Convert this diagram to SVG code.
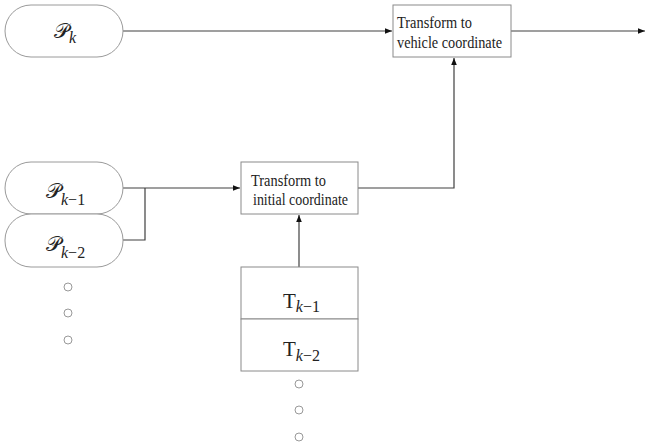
<svg xmlns="http://www.w3.org/2000/svg" width="646" height="444" viewBox="0 0 646 444">
<style>
.pill{fill:#fff;stroke:#9a9a9a;stroke-width:1}
.box{fill:#fff;stroke:#8a8a8a;stroke-width:1}
.ln{fill:none;stroke:#404040;stroke-width:1.2}
.dot{fill:#fff;stroke:#999;stroke-width:1}
.lbl{font-family:"Liberation Serif","Times New Roman",serif;font-size:16.5px;fill:#222}
.m{font-family:"DejaVu Serif","Liberation Serif",serif;font-size:21px;fill:#222}
.t{font-family:"Liberation Serif","Times New Roman",serif;font-size:21px;fill:#222}
.s{font-family:"Liberation Serif","Times New Roman",serif;font-size:16px;fill:#222}
</style>
<defs>
<marker id="ah" viewBox="0 0 10 10" refX="10" refY="5" markerWidth="7" markerHeight="7" orient="auto-start-reverse" markerUnits="userSpaceOnUse"><path d="M0,1 L10,5 L0,9 z" fill="#111"/></marker>
</defs>
<g id="connectors">
<path class="ln" d="M123,31 H392" marker-end="url(#ah)"/>
<path class="ln" d="M511,31 H645" marker-end="url(#ah)"/>
<path class="ln" d="M123,188 H145 M123,240 H145 V188 M145,188 H240" marker-end="url(#ah)"/>
<path class="ln" d="M358,188 H454 V58" marker-end="url(#ah)"/>
<path class="ln" d="M299,267 V215" marker-end="url(#ah)"/>
</g>
<g id="pk">
<rect class="pill" x="5" y="5" width="118" height="52" rx="26"/>
<text class="m" x="54" y="38">𝒫<tspan class="s" font-style="italic" dy="5">k</tspan></text>
</g>
<g id="pk1">
<rect class="pill" x="5" y="162" width="118" height="52" rx="26"/>
<text class="m" x="46" y="198">𝒫<tspan class="s" dy="7"><tspan font-style="italic">k</tspan>−1</tspan></text>
</g>
<g id="pk2">
<rect class="pill" x="5" y="214" width="118" height="53" rx="26"/>
<text class="m" x="46" y="251">𝒫<tspan class="s" dy="7"><tspan font-style="italic">k</tspan>−2</tspan></text>
</g>
<g id="pdots">
<circle class="dot" cx="68" cy="287" r="4"/>
<circle class="dot" cx="68" cy="313" r="4"/>
<circle class="dot" cx="68" cy="340" r="4"/>
</g>
<g id="vehicle">
<rect class="box" x="393" y="5" width="118" height="52"/>
<text class="lbl" x="397" y="28" textLength="75" lengthAdjust="spacingAndGlyphs">Transform  to</text>
<text class="lbl" x="397" y="48" textLength="105" lengthAdjust="spacingAndGlyphs">vehicle coordinate</text>
</g>
<g id="initial">
<rect class="box" x="241" y="162" width="117" height="52"/>
<text class="lbl" x="251" y="186" textLength="75" lengthAdjust="spacingAndGlyphs">Transform  to</text>
<text class="lbl" x="253" y="205" textLength="95" lengthAdjust="spacingAndGlyphs">initial coordinate</text>
</g>
<g id="tk1">
<rect class="box" x="241" y="267" width="117" height="52"/>
<text class="t" x="283" y="308">T<tspan class="s" dy="4"><tspan font-style="italic">k</tspan>−1</tspan></text>
</g>
<g id="tk2">
<rect class="box" x="241" y="319" width="117" height="52"/>
<text class="t" x="283" y="356">T<tspan class="s" dy="5"><tspan font-style="italic">k</tspan>−2</tspan></text>
</g>
<g id="tdots">
<circle class="dot" cx="299" cy="384" r="4"/>
<circle class="dot" cx="299" cy="410" r="4"/>
<circle class="dot" cx="299" cy="437" r="4"/>
</g>
</svg>
